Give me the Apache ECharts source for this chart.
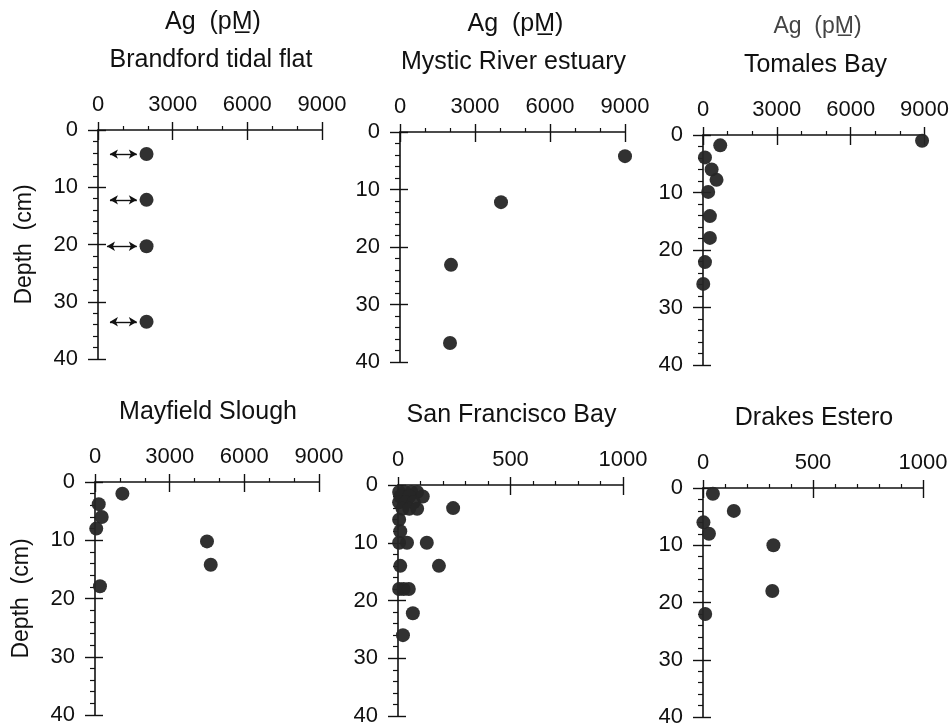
<!DOCTYPE html>
<html>
<head>
<meta charset="utf-8">
<script src="https://cdn.jsdelivr.net/npm/echarts@6/dist/echarts.min.js"></script>
<style>
html, body { margin: 0; padding: 0; background: #fff; }
#chart { width: 952px; height: 728px; }
</style>
</head>
<body>
<div id="chart"></div>
<script>
// tick labels
var agTicksWide = [0, 3000, 6000, 9000];
var agTicksNarrow = [0, 500, 1000];
var depthTicks = [0, 10, 20, 30, 40];

// Brandford tidal flat
var brandfordAg = [1950, 1950, 1950, 1950];
var brandfordDepth = [4.2, 12.2, 20.3, 33.5];
var brandfordArrowFrom = [480, 480, 360, 480];
var brandfordArrowTo = [1560, 1560, 1560, 1560];

// Mystic River estuary
var mysticAg = [9000, 4040, 2040, 2000];
var mysticDepth = [4.2, 12.2, 23.1, 36.7];

// Tomales Bay
var tomalesAg = [8900, 700, 80, 350, 550, 210, 280, 280, 80, 10];
var tomalesDepth = [1, 1.8, 3.9, 6, 7.8, 9.9, 14.1, 17.9, 22.1, 25.9];

// Mayfield Slough
var mayfieldAg = [1100, 150, 270, 50, 4500, 4650, 200];
var mayfieldDepth = [2, 3.8, 6, 8, 10.2, 14.2, 17.9];

// San Francisco Bay
var sfAg = [5, 30, 60, 85, 10, 50, 110, 5, 35, 70, 20, 50, 85, 245, 5, 10, 5, 40, 128, 10, 182, 5, 25, 48, 66, 22];
var sfDepth = [1.2, 1.2, 1.2, 1.2, 2, 2, 2, 3, 3, 3, 4.1, 4.1, 4.1, 4, 6, 8, 10, 10, 10, 14, 14, 18, 18, 18, 22.2, 26];

// Drakes Estero
var drakesAg = [45, 140, 2, 27, 320, 315, 10];
var drakesDepth = [1, 4, 6, 8, 10, 18, 22];

var panels = [
    { name: 'Brandford tidal flat', ag: brandfordAg, depth: brandfordDepth, ticks: agTicksWide, box: [98, 130, 224, 229], head: true, depthName: true },
    { name: 'Mystic River estuary', ag: mysticAg, depth: mysticDepth, ticks: agTicksWide, box: [400, 132, 225, 230], head: true },
    { name: 'Tomales Bay', ag: tomalesAg, depth: tomalesDepth, ticks: agTicksWide, box: [703, 135, 223, 230], head: true, light: true },
    { name: 'Mayfield Slough', ag: mayfieldAg, depth: mayfieldDepth, ticks: agTicksWide, box: [95, 482, 224, 233], depthName: true },
    { name: 'San Francisco Bay', ag: sfAg, depth: sfDepth, ticks: agTicksNarrow, box: [398, 485, 225, 231], minor: 5 },
    { name: 'Drakes Estero', ag: drakesAg, depth: drakesDepth, ticks: agTicksNarrow, box: [703, 488, 220, 229], minor: 5 }
];

var ink = '#111';
var font = 'Liberation Sans, Arial, sans-serif';

var grids = [], xAxes = [], yAxes = [], series = [], titles = [];

panels.forEach(function (p, i) {
    var b = p.box;
    var cx = b[0] + b[2] / 2 + 1;
    grids.push({ left: b[0], top: b[1], width: b[2], height: b[3] });

    var xMin = p.ticks[0], xMax = p.ticks[p.ticks.length - 1], xStep = p.ticks[1] - p.ticks[0];
    var yMin = depthTicks[0], yMax = depthTicks[depthTicks.length - 1], yStep = depthTicks[1] - depthTicks[0];

    xAxes.push({
        gridIndex: i, type: 'value', position: 'top',
        min: xMin, max: xMax, interval: xStep,
        axisLine: { show: true, lineStyle: { color: ink, width: 1.6 } },
        axisTick: { show: true, length: 8, lineStyle: { color: ink, width: 1.4 } },
        minorTick: { show: true, splitNumber: p.minor || 3, length: 4, lineStyle: { color: ink, width: 1.2 } },
        axisLabel: { margin: 14, fontSize: 22, color: ink, fontFamily: font, formatter: function (v) { return String(v); } },
        splitLine: { show: false }
    });
    xAxes.push({
        gridIndex: i, type: 'value', position: 'top',
        min: xMin, max: xMax, interval: xStep,
        axisLine: { show: false },
        axisTick: { show: true, inside: true, length: 10, lineStyle: { color: ink, width: 1.4 } },
        axisLabel: { show: false },
        splitLine: { show: false }
    });
    yAxes.push({
        gridIndex: i, type: 'value', position: 'left', inverse: true,
        min: yMin, max: yMax, interval: yStep,
        name: p.depthName ? 'Depth  (cm)' : '',
        nameLocation: 'middle', nameGap: 62,
        nameTextStyle: { fontSize: 23, color: ink, fontFamily: font },
        axisLine: { show: true, lineStyle: { color: ink, width: 1.6 } },
        axisTick: { show: true, length: 10, lineStyle: { color: ink, width: 1.4 } },
        minorTick: { show: true, splitNumber: 5, length: 5, lineStyle: { color: ink, width: 1.2 } },
        axisLabel: { margin: 20, fontSize: 22, color: ink, fontFamily: font },
        splitLine: { show: false }
    });
    yAxes.push({
        gridIndex: i, type: 'value', position: 'left', inverse: true,
        min: yMin, max: yMax, interval: yStep,
        axisLine: { show: false },
        axisTick: { show: true, inside: true, length: 8, lineStyle: { color: ink, width: 1.4 } },
        axisLabel: { show: false },
        splitLine: { show: false }
    });

    var s = {
        type: 'scatter',
        xAxisIndex: i * 2, yAxisIndex: i * 2,
        symbolSize: 14,
        itemStyle: { color: '#262626', opacity: 0.95 },
        data: p.ag.map(function (v, k) { return [v, p.depth[k]]; })
    };
    if (i === 0) {
        s.markLine = {
            silent: true, animation: false,
            symbol: ['arrow', 'arrow'], symbolSize: [7, 8],
            label: { show: false },
            lineStyle: { color: ink, width: 1.4, type: 'solid' },
            data: brandfordDepth.map(function (d, k) {
                return [{ coord: [brandfordArrowFrom[k], d] }, { coord: [brandfordArrowTo[k], d] }];
            })
        };
    }
    series.push(s);

    titles.push({
        text: p.name, left: cx, top: b[1] - 82, textAlign: 'center', padding: 0,
        textStyle: { fontSize: 25, fontWeight: 'normal', color: ink, fontFamily: font }
    });
    if (p.head) {
        titles.push({
            text: 'Ag  (pM\u0332)', left: cx + 2, top: b[1] - 120, textAlign: 'center', padding: 0,
            textStyle: { fontSize: p.light ? 23 : 25, fontWeight: 'normal', color: p.light ? '#444' : ink, fontFamily: font }
        });
    }
});

var myChart = echarts.init(document.getElementById('chart'));
myChart.setOption({
    animation: false,
    backgroundColor: '#fff',
    title: titles,
    grid: grids,
    xAxis: xAxes,
    yAxis: yAxes,
    series: series
});
</script>
</body>
</html>
